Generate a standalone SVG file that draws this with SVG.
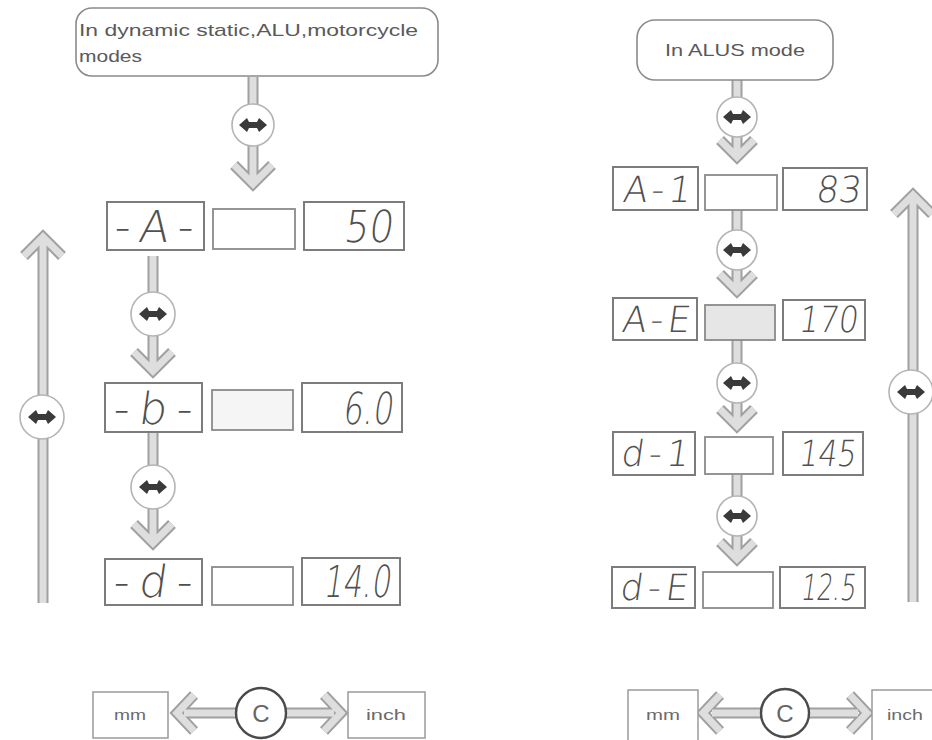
<svg xmlns="http://www.w3.org/2000/svg" xmlns:xlink="http://www.w3.org/1999/xlink" width="932" height="740" viewBox="0 0 932 740">
  <style>
    .bg { fill: #ffffff; }
    .note { fill: #ffffff; stroke: #8a8a8a; stroke-width: 1.6; }
    .note-t { font-family: "Liberation Sans", Arial, sans-serif; font-size: 17px; fill: #5a5a5a; }
    .box { fill: #ffffff; stroke: #7c7c7c; stroke-width: 2; }
    .mid { fill: #ffffff; stroke: #8a8a8a; stroke-width: 1.8; }
    .seg { font-family: "DejaVu Sans", "Liberation Sans", sans-serif; font-weight: 200; fill: #505050; }
    .seg-l { font-size: 44px; }
    .seg-r { font-size: 36px; }
    .unit { fill: #ffffff; stroke: #9a9a9a; stroke-width: 1.5; }
    .unit-t { font-family: "Liberation Sans", Arial, sans-serif; font-size: 14px; fill: #6a6a6a; text-anchor: middle; }
    .ao { fill: none; stroke: #a0a0a0; stroke-width: 11; stroke-linejoin: miter; }
    .ai { fill: none; stroke: #dedede; stroke-width: 7; stroke-linejoin: miter; }
    .sw { fill: #ffffff; stroke: #b4b4b4; stroke-width: 1.6; }
    .dbl { fill: #3a3a3a; }
    .cbtn { fill: #ffffff; stroke: #4a4a4a; stroke-width: 2.4; }
    .cbtn-t { font-family: "Liberation Sans", Arial, sans-serif; font-size: 24px; fill: #666666; text-anchor: middle; }
  </style>
  <defs>
    <!-- dark double-headed arrow inside the switch circles -->
    <polygon id="dbl" class="dbl" points="-14,0 -6,-7 -4,-3 4,-3 6,-7 14,0 6,7 4,3 -4,3 -6,7"/>
  </defs>

  <rect class="bg" x="0" y="0" width="932" height="740"/>

  <!-- connectors: hollow gray arrows (outline pass, then fill pass) -->
  <g id="connectors">
    <g class="ao">
      <path d="M253 77 V181 M234 165 L253 184 L272 165"/>
      <path d="M153 256 V368 M134 352 L153 371 L172 352"/>
      <path d="M153 432 V540 M134 524 L153 543 L172 524"/>
      <path d="M43 603 V240 M24 256 L43 237 L62 256"/>
      <path d="M737 80 V153 M720 140 L737 157 L754 140"/>
      <path d="M737 210 V287 M720 274 L737 291 L754 274"/>
      <path d="M737 340 V422 M720 409 L737 426 L754 409"/>
      <path d="M737 475 V555 M720 542 L737 559 L754 542"/>
      <path d="M913 602 V198 M894 214 L913 195 L932 214"/>
      <path d="M236 713 H184 M194 695 L177 713 L194 731"/>
      <path d="M286 713 H334 M324 695 L341 713 L324 731"/>
      <path d="M761 713 H712 M720 695 L703 713 L720 731"/>
      <path d="M809 713 H858 M850 695 L867 713 L850 731"/>
    </g>
    <g class="ai">
      <path d="M253 77 V181 M234 165 L253 184 L272 165"/>
      <path d="M153 256 V368 M134 352 L153 371 L172 352"/>
      <path d="M153 432 V540 M134 524 L153 543 L172 524"/>
      <path d="M43 603 V240 M24 256 L43 237 L62 256"/>
      <path d="M737 80 V153 M720 140 L737 157 L754 140"/>
      <path d="M737 210 V287 M720 274 L737 291 L754 274"/>
      <path d="M737 340 V422 M720 409 L737 426 L754 409"/>
      <path d="M737 475 V555 M720 542 L737 559 L754 542"/>
      <path d="M913 602 V198 M894 214 L913 195 L932 214"/>
      <path d="M236 713 H184 M194 695 L177 713 L194 731"/>
      <path d="M286 713 H334 M324 695 L341 713 L324 731"/>
      <path d="M761 713 H712 M720 695 L703 713 L720 731"/>
      <path d="M809 713 H858 M850 695 L867 713 L850 731"/>
    </g>
    <!-- switch circles on the connectors -->
    <g>
      <circle class="sw" cx="253" cy="125" r="21"/><use xlink:href="#dbl" transform="translate(253,125)"/>
      <circle class="sw" cx="153" cy="314" r="22"/><use xlink:href="#dbl" transform="translate(153,314)"/>
      <circle class="sw" cx="153" cy="487" r="22"/><use xlink:href="#dbl" transform="translate(153,487)"/>
      <circle class="sw" cx="42" cy="417" r="22"/><use xlink:href="#dbl" transform="translate(42,417)"/>
      <circle class="sw" cx="737" cy="117" r="20"/><use xlink:href="#dbl" transform="translate(737,117)"/>
      <circle class="sw" cx="737" cy="250" r="20"/><use xlink:href="#dbl" transform="translate(737,250)"/>
      <circle class="sw" cx="737" cy="383" r="20"/><use xlink:href="#dbl" transform="translate(737,383)"/>
      <circle class="sw" cx="737" cy="516" r="20"/><use xlink:href="#dbl" transform="translate(737,516)"/>
      <circle class="sw" cx="911" cy="392" r="22"/><use xlink:href="#dbl" transform="translate(911,392)"/>
    </g>
  </g>

  <!-- left column -->
  <g id="note-left">
    <rect class="note" x="76" y="8" width="362" height="68" rx="16"/>
    <text class="note-t" x="79" y="36" textLength="339" lengthAdjust="spacingAndGlyphs">In dynamic static,ALU,motorcycle</text>
    <text class="note-t" x="79" y="62" textLength="63" lengthAdjust="spacingAndGlyphs">modes</text>
  </g>

  <g id="row-A">
    <rect class="box" x="107" y="202" width="97" height="48"/>
    <text class="seg seg-l" transform="translate(113,242) skewX(-8)" textLength="79" lengthAdjust="spacing">-A-</text>
    <rect class="mid" x="213" y="209" width="82" height="40"/>
    <rect class="box" x="304" y="202" width="100" height="48"/>
    <text class="seg seg-l" transform="translate(343,242) skewX(-8)" textLength="49" lengthAdjust="spacingAndGlyphs">50</text>
  </g>
  <g id="row-b">
    <rect class="box" x="105" y="383" width="97" height="49"/>
    <text class="seg seg-l" transform="translate(112,424) skewX(-8)" textLength="79" lengthAdjust="spacing">-b-</text>
    <rect class="mid" x="212" y="390" width="81" height="40" style="fill:#f5f5f5"/>
    <rect class="box" x="302" y="383" width="100" height="49"/>
    <text class="seg seg-l" transform="translate(342,424) skewX(-8)" textLength="50" lengthAdjust="spacingAndGlyphs">6.0</text>
  </g>
  <g id="row-d">
    <rect class="box" x="105" y="559" width="97" height="46"/>
    <text class="seg seg-l" transform="translate(112,597) skewX(-8)" textLength="79" lengthAdjust="spacing">-d-</text>
    <rect class="mid" x="212" y="567" width="81" height="38"/>
    <rect class="box" x="302" y="558" width="98" height="47"/>
    <text class="seg seg-l" transform="translate(323,597) skewX(-8)" textLength="67" lengthAdjust="spacingAndGlyphs">14.0</text>
  </g>

  <g id="unit-left">
    <rect class="unit" x="93" y="692" width="75" height="46"/>
    <text class="unit-t" x="130" y="720" textLength="32" lengthAdjust="spacingAndGlyphs">mm</text>
    <circle class="cbtn" cx="261" cy="713" r="25"/>
    <text class="cbtn-t" x="261" y="722">C</text>
    <rect class="unit" x="348" y="692" width="77" height="46"/>
    <text class="unit-t" x="386" y="720" textLength="40" lengthAdjust="spacingAndGlyphs">inch</text>
  </g>

  <!-- right column -->
  <g id="note-right">
    <rect class="note" x="637" y="20" width="196" height="60" rx="18"/>
    <text class="note-t" x="735" y="56" text-anchor="middle" textLength="140" lengthAdjust="spacingAndGlyphs">In ALUS mode</text>
  </g>

  <g id="row-A1">
    <rect class="box" x="613" y="167" width="85" height="43"/>
    <text class="seg seg-r" transform="translate(622,202) skewX(-8)" textLength="68" lengthAdjust="spacing">A-1</text>
    <rect class="mid" x="705" y="175" width="72" height="35"/>
    <rect class="box" x="783" y="168" width="84" height="42"/>
    <text class="seg seg-r" transform="translate(815,202) skewX(-8)" textLength="45" lengthAdjust="spacingAndGlyphs">83</text>
  </g>
  <g id="row-AE">
    <rect class="box" x="613" y="298" width="84" height="42"/>
    <text class="seg seg-r" transform="translate(621,332) skewX(-8)" textLength="68" lengthAdjust="spacing">A-E</text>
    <rect class="mid" x="705" y="305" width="70" height="35" style="fill:#e6e6e6"/>
    <rect class="box" x="783" y="300" width="82" height="40"/>
    <text class="seg seg-r" transform="translate(798,332) skewX(-8)" textLength="59" lengthAdjust="spacingAndGlyphs">170</text>
  </g>
  <g id="row-d1">
    <rect class="box" x="613" y="432" width="82" height="43"/>
    <text class="seg seg-r" transform="translate(620,466) skewX(-8)" textLength="68" lengthAdjust="spacing">d-1</text>
    <rect class="mid" x="705" y="437" width="68" height="37"/>
    <rect class="box" x="783" y="432" width="80" height="43"/>
    <text class="seg seg-r" transform="translate(798,466) skewX(-8)" textLength="57" lengthAdjust="spacingAndGlyphs">145</text>
  </g>
  <g id="row-dE">
    <rect class="box" x="612" y="567" width="83" height="41"/>
    <text class="seg seg-r" transform="translate(619,600) skewX(-8)" textLength="68" lengthAdjust="spacing">d-E</text>
    <rect class="mid" x="703" y="572" width="70" height="36"/>
    <rect class="box" x="780" y="567" width="85" height="41"/>
    <text class="seg seg-r" transform="translate(800,600) skewX(-8)" textLength="55" lengthAdjust="spacingAndGlyphs">12.5</text>
  </g>

  <g id="unit-right">
    <rect class="unit" x="628" y="690" width="70" height="52"/>
    <text class="unit-t" x="663" y="720" textLength="34" lengthAdjust="spacingAndGlyphs">mm</text>
    <circle class="cbtn" cx="785" cy="713" r="24"/>
    <text class="cbtn-t" x="785" y="722">C</text>
    <rect class="unit" x="872" y="690" width="70" height="52"/>
    <text class="unit-t" x="905" y="720" textLength="36" lengthAdjust="spacingAndGlyphs">inch</text>
  </g>
</svg>
